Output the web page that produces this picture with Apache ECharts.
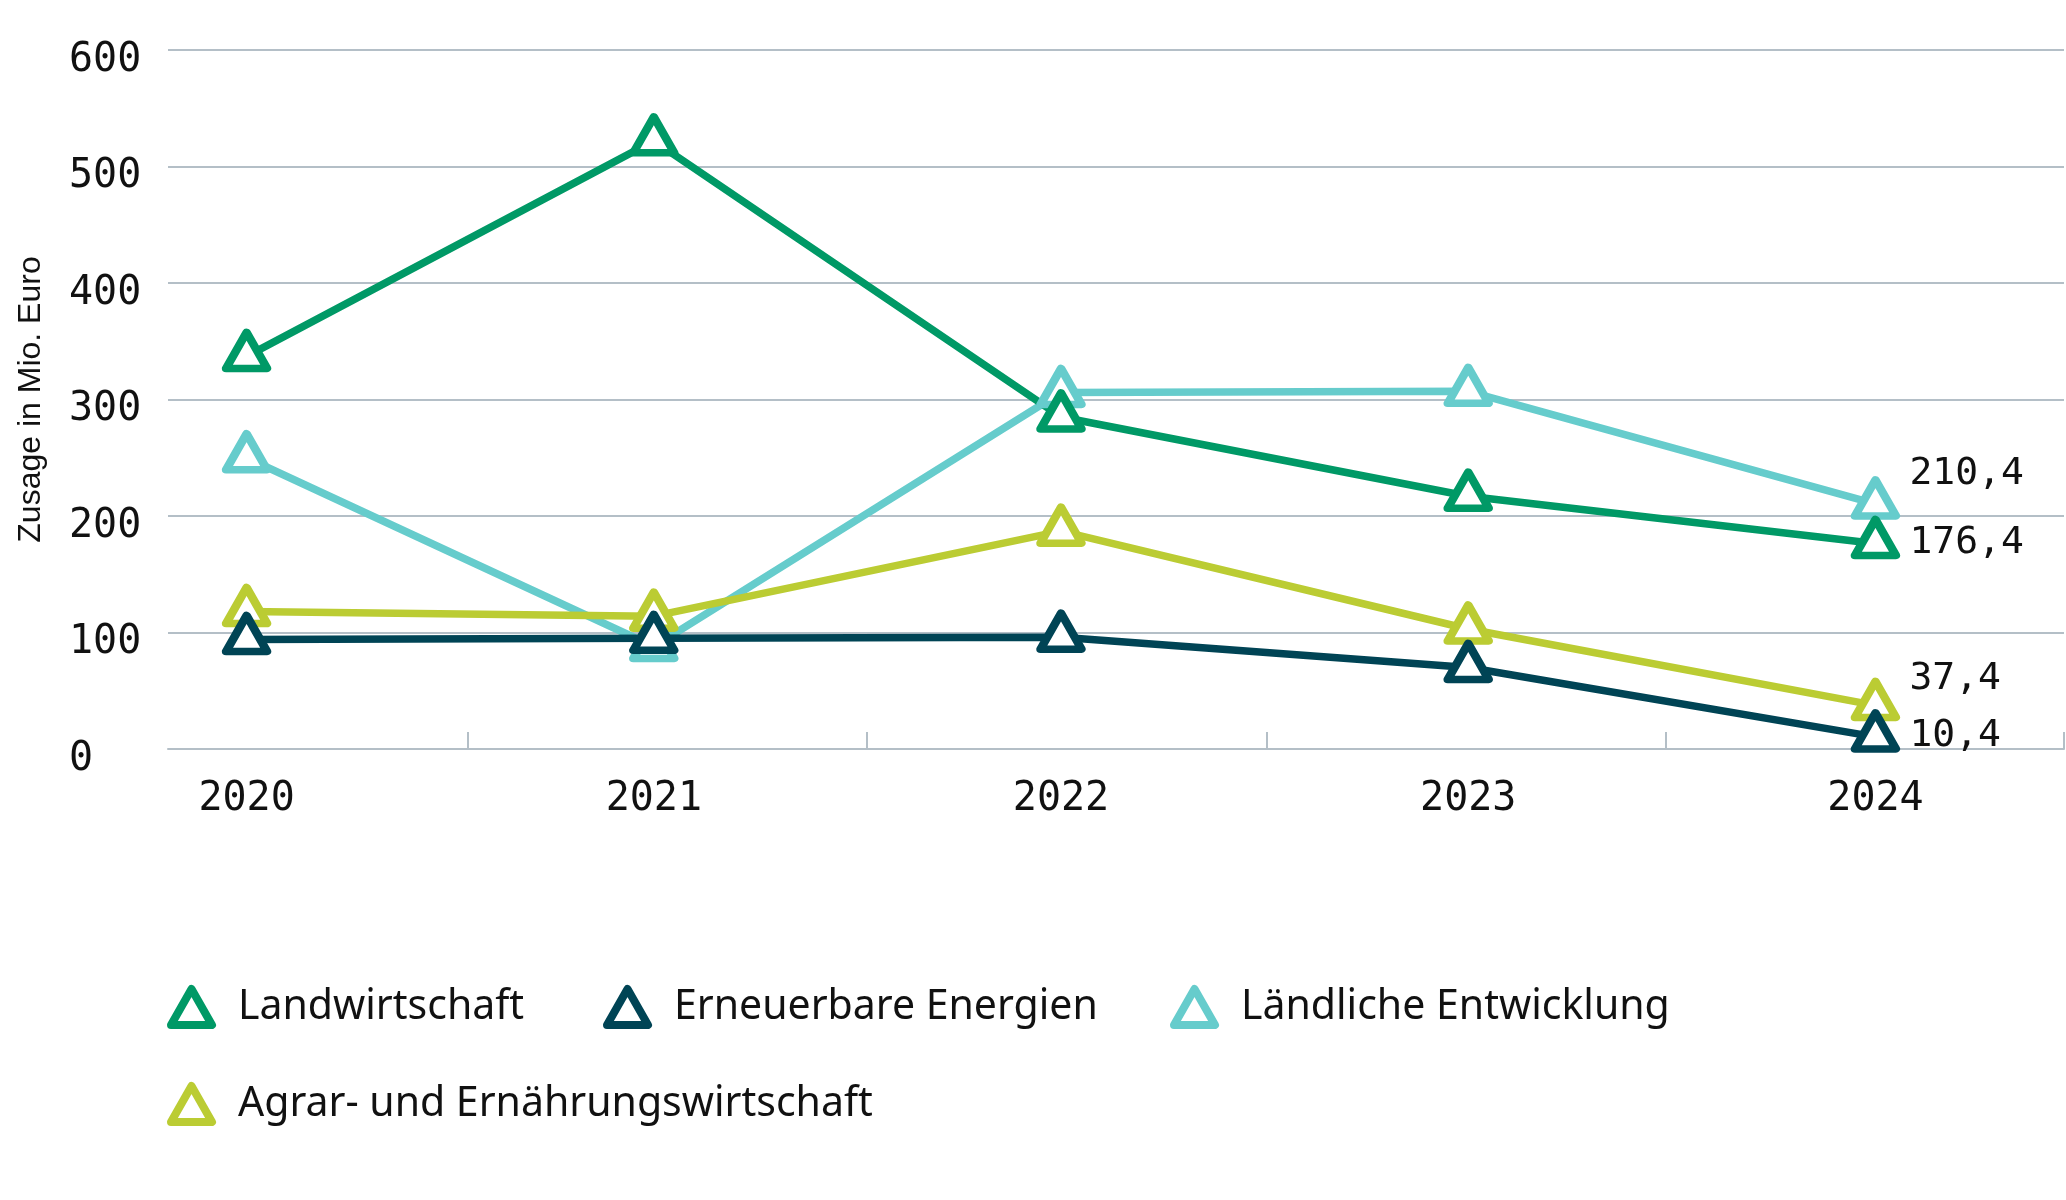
<!DOCTYPE html>
<html>
<head>
<meta charset="utf-8">
<script src="https://cdn.jsdelivr.net/npm/echarts@6/dist/echarts.min.js"></script>
<style>
html,body{margin:0;padding:0;background:#fff;}
#chart{width:2066px;height:1200px;}
</style>
</head>
<body>
<div id="chart"></div>
<script>
// ---- data ----
const years = [2020, 2021, 2022, 2023, 2024];
const seriesNames = ['Landwirtschaft', 'Erneuerbare Energien', 'Ländliche Entwicklung', 'Agrar- und Ernährungswirtschaft'];
const landwirtschaft = [337, 522, 285, 217, 176.4];
const erneuerbareEnergien = [94, 95, 96, 70, 10.4];
const laendlicheEntwicklung = [250, 88, 306, 307, 210.4];
const agrarErnaehrung = [118, 114, 187, 103, 37.4];
const yAxisTitle = 'Zusage in Mio. Euro';
const xTickPositions = [2020.543, 2021.524, 2022.504, 2023.484, 2024.463];

// ---- style ----
const COLORS = {
  'Landwirtschaft': '#009966',
  'Erneuerbare Energien': '#004455',
  'Ländliche Entwicklung': '#66CCCC',
  'Agrar- und Ernährungswirtschaft': '#BBCC33'
};
const GRID_COLOR = '#b4bfc7';
const MONO = '"DejaVu Sans Mono", "Liberation Mono", monospace';
const SANS = '"Noto Sans", "Liberation Sans", sans-serif';

const fmt = v => String(v).replace('.', ',');

function makeSeries(name, values, labelDy) {
  const c = COLORS[name];
  return {
    name: name,
    type: 'line',
    data: years.map((y, i) => [y, values[i]]),
    symbol: 'triangle',
    symbolSize: [41, 36],
    symbolOffset: [0, -6],
    showAllSymbol: true,
    lineStyle: { color: c, width: 7.5, join: 'round', cap: 'round' },
    itemStyle: { color: '#ffffff', borderColor: c, borderWidth: 8, borderJoin: 'round' },
    emphasis: { disabled: true },
    endLabel: {
      show: true,
      formatter: p => fmt(p.value[1]),
      distance: 34,
      offset: [0, labelDy],
      fontFamily: MONO,
      fontSize: 38,
      color: '#111'
    },
    z: 2
  };
}

// drawing order: teal, yellow, green, dark (dark on top)
const series = [
  makeSeries('Ländliche Entwicklung', laendlicheEntwicklung, -30),
  makeSeries('Agrar- und Ernährungswirtschaft', agrarErnaehrung, -26),
  makeSeries('Landwirtschaft', landwirtschaft, 0),
  makeSeries('Erneuerbare Energien', erneuerbareEnergien, -1)
];

function legendItem(name, left, top) {
  const c = COLORS[name];
  return {
    show: true,
    data: [{ name: name, icon: 'triangle', itemStyle: { color: '#fff', borderColor: c, borderWidth: 8, borderJoin: 'round' } }],
    left: left,
    top: top,
    padding: 0,
    itemWidth: 41,
    itemHeight: 36,
    selectedMode: false,
    textStyle: { fontFamily: SANS, fontSize: 41, color: '#111', padding: [0, 0, 0, 21], lineHeight: 36 }
  };
}

const option = {
  backgroundColor: '#ffffff',
  animation: false,
  grid: { left: 168, right: 2, top: 50, bottom: 451, containLabel: false },
  legend: [
    legendItem('Landwirtschaft', 167, 985),
    legendItem('Erneuerbare Energien', 603, 985),
    legendItem('Ländliche Entwicklung', 1170, 985),
    legendItem('Agrar- und Ernährungswirtschaft', 167, 1082)
  ],
  xAxis: {
    type: 'value',
    min: 2019.807,
    max: 2024.463,
    splitLine: { show: false },
    axisLine: { show: true, onZero: false, lineStyle: { color: GRID_COLOR, width: 2 } },
    axisTick: { show: true, inside: true, length: 17, customValues: xTickPositions, lineStyle: { color: GRID_COLOR, width: 2 } },
    axisLabel: {
      customValues: years,
      formatter: v => String(Math.round(v)),
      margin: 31,
      fontFamily: MONO,
      fontSize: 40,
      color: '#111'
    }
  },
  yAxis: {
    type: 'value',
    min: 0,
    max: 600,
    interval: 100,
    name: yAxisTitle,
    nameLocation: 'middle',
    nameGap: 121,
    nameTextStyle: { fontFamily: '"Liberation Sans", Arial, sans-serif', fontSize: 32, color: '#111' },
    axisLine: { show: false },
    axisTick: { show: false },
    splitLine: { show: true, lineStyle: { color: GRID_COLOR, width: 2 } },
    axisLabel: {
      align: 'left',
      verticalAlign: 'top',
      lineHeight: 21,
      margin: 99,
      fontFamily: MONO,
      fontSize: 40,
      color: '#111'
    }
  },
  series: series
};

const chart = echarts.init(document.getElementById('chart'), null, { renderer: 'canvas' });
chart.setOption(option);
</script>
</body>
</html>
